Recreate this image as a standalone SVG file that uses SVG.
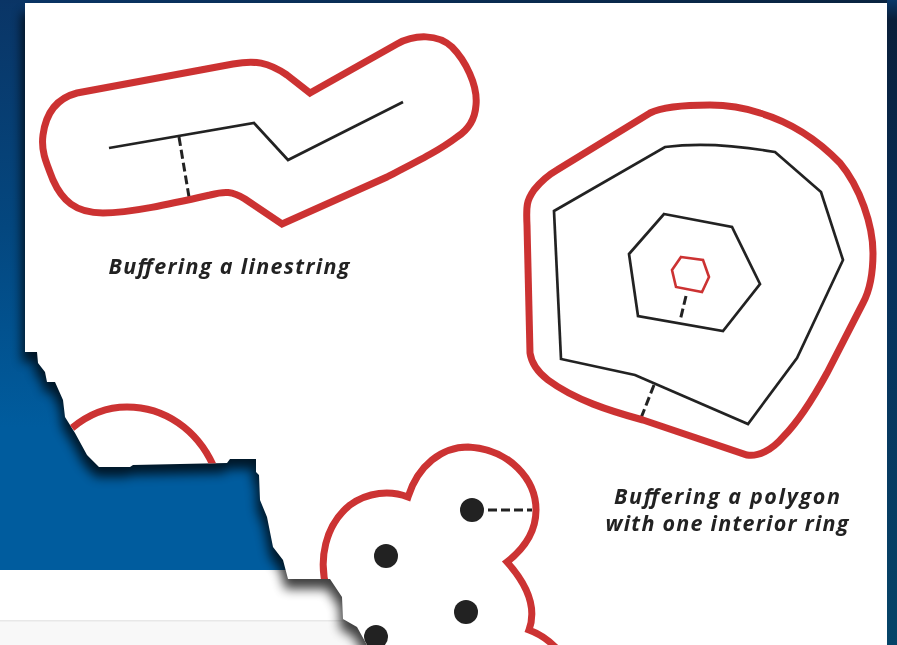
<svg xmlns="http://www.w3.org/2000/svg" width="897" height="645" viewBox="0 0 897 645">
<style>
.buf{fill:none;stroke:#cc3333;stroke-width:7;stroke-linejoin:miter}
.ln{fill:none;stroke:#232323;stroke-width:2.7;stroke-linejoin:miter}
.dash{fill:none;stroke:#232323;stroke-width:3;stroke-dasharray:9 4}
.cap{font-family:"Open Sans","Noto Sans",sans-serif;font-weight:700;font-style:italic;font-size:21.5px;fill:#222;text-anchor:middle}
.dot{fill:#222}
</style>
<defs>
<linearGradient id="bg" x1="0" y1="0" x2="0" y2="1"><stop offset="0" stop-color="#0a3566"/><stop offset="0.4" stop-color="#04477f"/><stop offset="0.75" stop-color="#005c9e"/><stop offset="1" stop-color="#005c9e"/></linearGradient>
<linearGradient id="rs" x1="0" y1="0" x2="0" y2="1"><stop offset="0" stop-color="#0a3868"/><stop offset="0.03" stop-color="#0a1f3a"/><stop offset="0.4" stop-color="#07305a"/><stop offset="1" stop-color="#064468"/></linearGradient>
<linearGradient id="ts" x1="0" y1="0" x2="1" y2="0"><stop offset="0" stop-color="#0a3566"/><stop offset="1" stop-color="#0a2440"/></linearGradient>
<filter id="sh" x="-10%" y="-10%" width="120%" height="120%"><feGaussianBlur stdDeviation="5.5"/></filter>
<filter id="soft" x="-5%" y="-5%" width="110%" height="110%"><feGaussianBlur stdDeviation="0.45"/></filter>
<clipPath id="pc"><path d="M25,3H887V645H367L357,627L343,619L342,597L330,579H288L283,560L273,547L267,517L260,500L259,475L256,472V459H230L227,463L133,465L130,467H99L87,455L75,433L65,417L63,400L55,382H47L45,372L38,363L37,352H25Z"/></clipPath>
</defs>
<g id="background">
<rect width="897" height="570" fill="url(#bg)"/>
<rect x="0" y="0" width="897" height="3" fill="url(#ts)"/>
<rect x="0" y="570" width="897" height="75" fill="#fff"/>
<rect x="0" y="621" width="897" height="24" fill="#f8f8f8"/>
<rect x="0" y="620" width="897" height="1.5" fill="#e8e8e8"/>
<path d="M25,3H887V645H367L357,627L343,619L342,597L330,579H288L283,560L273,547L267,517L260,500L259,475L256,472V459H230L227,463L133,465L130,467H99L87,455L75,433L65,417L63,400L55,382H47L45,372L38,363L37,352H25Z" transform="translate(-3,10)" fill="#000" opacity="0.75" filter="url(#sh)"/>
<rect x="887" y="0" width="10" height="645" fill="url(#rs)"/>
</g>
<g id="paper"><path d="M25,3H887V645H367L357,627L343,619L342,597L330,579H288L283,560L273,547L267,517L260,500L259,475L256,472V459H230L227,463L133,465L130,467H99L87,455L75,433L65,417L63,400L55,382H47L45,372L38,363L37,352H25Z" fill="#fff"/></g>
<g id="connectors" filter="url(#soft)">
<path class="dash" d="M179,137L189,197"/>
<path class="dash" d="M654,385L641,418"/>
<path class="dash" d="M686,296L680,321"/>
<path class="dash" d="M488,510H532"/>
</g>
<g id="linestring" filter="url(#soft)">
<path class="buf" d="M310,93L397,44C415,34 438,34 452,47C465,60 478,85 476,105C475,120 468,130 457,137C440,150 420,160 387,177L282,224L245,199C232,191 225,191 210,195C170,204 130,213 103,213C75,213 62,200 53,180C45,160 41,150 43,135C46,112 58,98 77,93L233,64C255,60 268,62 287,75Z"/>
<path class="ln" d="M109,148L254,123L288,160L403,102"/>
<text class="cap" x="229" y="274" textLength="241" lengthAdjust="spacing">Buffering a linestring</text>
</g>
<g id="polygon" filter="url(#soft)">
<path class="buf" d="M650,113C662,107 680,105 710,105C730,105 745,108 760,113C790,122 818,140 840,163C860,187 873,225 873,253C873,275 870,290 863,303L827,373C815,395 800,420 783,437C772,450 758,457 747,455L643,420C610,411 575,400 548,380C535,370 531,360 530,353L527,225C526,205 527,200 534,190C542,180 550,174 557,170Z"/>
<path class="ln" d="M554,211L665,147C695,143 735,145 775,152L821,192L843,260L797,358L748,424L635,375L561,359Z"/>
<path class="ln" d="M664,214L732,227L760,284L723,331L638,316L629,254Z"/>
<path d="M681,257L703,260L709,277L702,292L676,287L672,270Z" fill="none" stroke="#cc3333" stroke-width="2.6"/>
<text class="cap" x="727" y="503.5" textLength="226" lengthAdjust="spacing">Buffering a polygon</text>
<text class="cap" x="727" y="531" textLength="243" lengthAdjust="spacing">with one interior ring</text>
</g>
<g id="points" clip-path="url(#pc)">
<path class="buf" d="M327,590C318,560 325,525 350,505C368,492 390,490 408,497C418,465 442,447 468,447C510,449 536,480 536,510C536,530 525,548 507,562C525,582 538,605 529,630C540,634 550,641 558,650"/>
<path class="buf" d="M72,428C90,413 110,407 127,407C165,407 197,430 213,465"/>
<circle class="dot" cx="472" cy="510" r="12"/>
<circle class="dot" cx="386" cy="556" r="12"/>
<circle class="dot" cx="466" cy="612" r="12"/>
<circle class="dot" cx="376" cy="637" r="12"/>
</g>
</svg>
